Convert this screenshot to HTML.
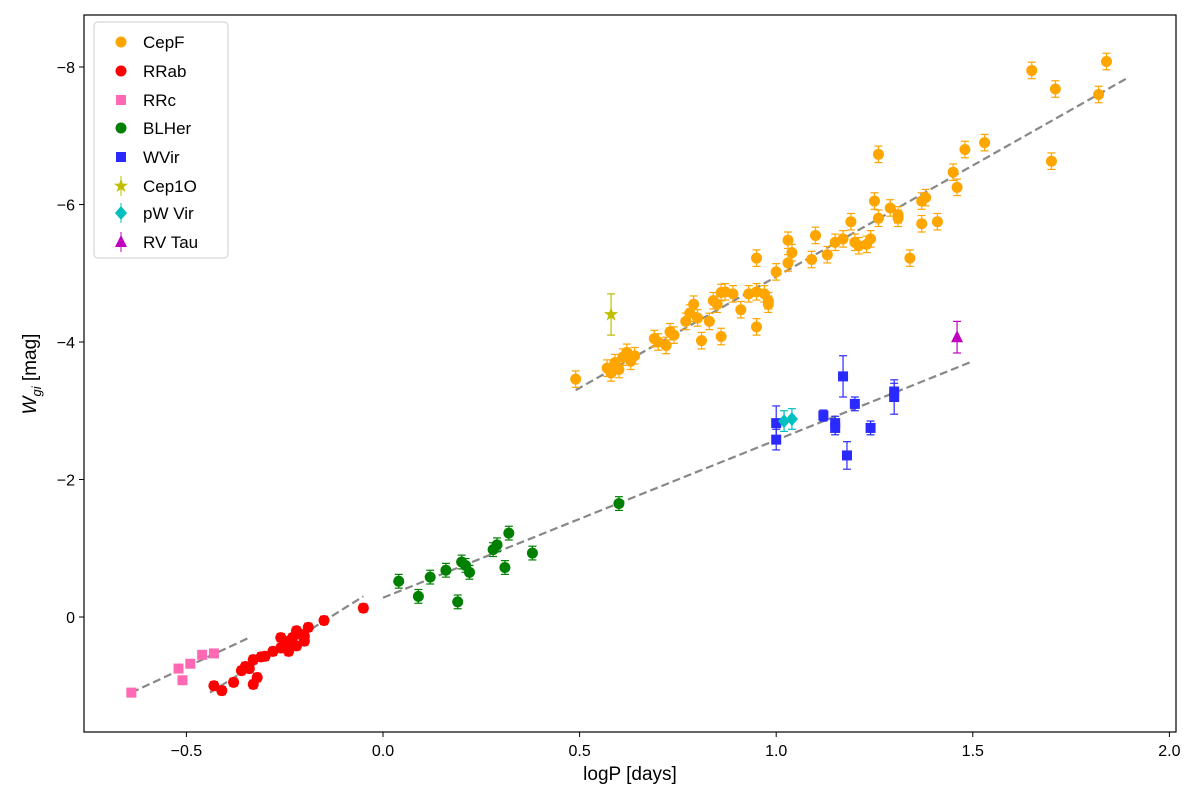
<!DOCTYPE html>
<html><head><meta charset="utf-8"><style>
body{margin:0;background:#fff}
svg{display:block;font-family:"Liberation Sans","DejaVu Sans",sans-serif}
</style></head><body>
<svg id="chart" width="1200" height="800"></svg>
<script>
const cepfP=[0.49,0.57,0.58,0.59,0.60,0.61,0.62,0.63,0.64,0.69,0.70,0.73,0.74,0.72,0.77,0.78,0.79,0.80,0.81,0.83,0.84,0.85,0.86,0.87,0.86,0.89,0.91,0.93,0.95,0.95,0.95,0.97,0.98,0.98,1.0,1.03,1.03,1.04,1.10,1.09,1.13,1.15,1.17,1.19,1.2,1.21,1.23,1.24,1.25,1.26,1.26,1.29,1.31,1.31,1.34,1.37,1.38,1.37,1.41,1.45,1.46,1.48,1.53,1.65,1.70,1.71,1.82,1.84];
const cepfW=[-3.46,-3.62,-3.55,-3.7,-3.6,-3.78,-3.85,-3.72,-3.8,-4.05,-4.0,-4.15,-4.1,-3.95,-4.3,-4.42,-4.55,-4.35,-4.02,-4.3,-4.6,-4.55,-4.72,-4.73,-4.08,-4.7,-4.47,-4.7,-4.73,-4.22,-5.22,-4.7,-4.6,-4.55,-5.02,-5.48,-5.15,-5.3,-5.55,-5.2,-5.27,-5.45,-5.5,-5.75,-5.45,-5.4,-5.42,-5.5,-6.05,-5.8,-6.73,-5.95,-5.8,-5.85,-5.22,-5.72,-6.1,-6.05,-5.75,-6.47,-6.25,-6.8,-6.9,-7.95,-6.63,-7.68,-7.6,-8.08];
const rrabP=[-0.43,-0.41,-0.38,-0.36,-0.35,-0.34,-0.33,-0.32,-0.33,-0.31,-0.30,-0.26,-0.26,-0.25,-0.24,-0.23,-0.22,-0.21,-0.20,-0.20,-0.19,-0.22,-0.24,-0.28,-0.15,-0.05];
const rrabW=[1.0,1.07,0.95,0.78,0.72,0.75,0.98,0.88,0.62,0.58,0.57,0.3,0.45,0.4,0.35,0.3,0.2,0.25,0.28,0.35,0.15,0.42,0.5,0.5,0.05,-0.13];
const rrcP=[-0.64,-0.52,-0.51,-0.49,-0.46,-0.43];
const rrcW=[1.1,0.75,0.92,0.68,0.55,0.53];
const blhP=[0.04,0.09,0.12,0.16,0.19,0.20,0.21,0.22,0.28,0.29,0.31,0.32,0.38,0.60];
const blhW=[-0.52,-0.30,-0.58,-0.68,-0.22,-0.80,-0.75,-0.65,-0.98,-1.05,-0.72,-1.22,-0.93,-1.65];
const wvirP=[1.0,1.0,1.12,1.15,1.15,1.17,1.18,1.20,1.24,1.30,1.30];
const wvirW=[-2.82,-2.58,-2.93,-2.82,-2.75,-3.5,-2.35,-3.1,-2.75,-3.2,-3.28];
const wvirE=[0.25,0.15,0.08,0.1,0.1,0.3,0.2,0.1,0.1,0.25,0.12];
const cep1oP=[0.58], cep1oW=[-4.4];
const pwvP=[1.02,1.04], pwvW=[-2.85,-2.88];
const rvtP=[1.46], rvtW=[-4.07];
const fits=[[0.49,-3.3,1.89,-7.83],[0.0,-0.28,1.5,-3.72],[-0.44,1.1,-0.05,-0.3],[-0.64,1.1,-0.34,0.3]];
const xTicks=[-0.5,0.0,0.5,1.0,1.5,2.0];
const yTicks=[-8,-6,-4,-2,0];

const NS="http://www.w3.org/2000/svg";
const svg=document.getElementById('chart');
const L=84,R=1176,T=15,B=732;
const X=v=>383+v*393.2, Y=v=>617+v*68.75;
function el(t,a,p){const e=document.createElementNS(NS,t);for(const k in a)e.setAttribute(k,a[k]);(p||svg).appendChild(e);return e;}
const gF=el('g',{});
fits.forEach(f=>{const l=el('line',{x1:X(f[0]),y1:Y(f[1]),x2:X(f[2]),y2:Y(f[3]),stroke:'#888',"stroke-width":2.2,"stroke-dasharray":"8,4"},gF);

});
function marker(shape,cx,cy,c,g,s){
 let m;
 if(shape==='o')m=el('circle',{cx,cy,r:s||5.5,fill:c},g);
 else if(shape==='s')m=el('rect',{x:cx-5,y:cy-5,width:10,height:10,fill:c},g);
 else if(shape==='d')m=el('polygon',{points:`${cx},${cy-7} ${cx+6},${cy} ${cx},${cy+7} ${cx-6},${cy}`,fill:c},g);
 else if(shape==='^')m=el('polygon',{points:`${cx},${cy-7} ${cx+6},${cy+5} ${cx-6},${cy+5}`,fill:c},g);
 else {let p=[];for(let i=0;i<10;i++){const r=i%2?3:7.5,a=-Math.PI/2+i*Math.PI/5;p.push((cx+r*Math.cos(a))+','+(cy+r*Math.sin(a)));}m=el('polygon',{points:p.join(' '),fill:c},g);}
 return m;
}
function series(name,P,W,E,shape,c,errc){
 const g=el('g',{});
 
 
 P.forEach((p,i)=>{const cx=X(p),cy=Y(W[i]);const e=E?(Array.isArray(E)?E[i]:E):0;
  if(e){const y1=Y(W[i]-e),y2=Y(W[i]+e);
   el('line',{x1:cx,y1,x2:cx,y2,stroke:errc||c,"stroke-width":1.2},g);
   el('line',{x1:cx-4,y1,x2:cx+4,y2:y1,stroke:errc||c,"stroke-width":1.2},g);
   el('line',{x1:cx-4,y1:y2,x2:cx+4,y2,stroke:errc||c,"stroke-width":1.2},g);}
  const m=marker(shape,cx,cy,c,g);
  
  });
}
series('cepf',cepfP,cepfW,0.12,'o','#ffa500');
series('rrab',rrabP,rrabW,0.06,'o','#ff0000');
series('rrc',rrcP,rrcW,0,'s','#ff69b4');
series('blher',blhP,blhW,0.1,'o','#008000');
series('wvir',wvirP,wvirW,wvirE,'s','#2a2aff');
series('cep1o',cep1oP,cep1oW,0.3,'*','#bfbf00');
series('pwvir',pwvP,pwvW,0.15,'d','#00c0c0');
series('rvtau',rvtP,rvtW,0.23,'^','#bf00bf');
// axes
const ax=el('rect',{x:L,y:T,width:R-L,height:B-T,fill:'none',stroke:'#000',"stroke-width":1.2});


xTicks.forEach(v=>{el('line',{x1:X(v),y1:B,x2:X(v),y2:B+5,stroke:'#000'});
 const t=el('text',{x:X(v),y:B+24,"text-anchor":"middle","font-size":16});t.textContent=v.toFixed(1).replace('-','−');
 
 });
yTicks.forEach(v=>{el('line',{x1:L-5,y1:Y(v),x2:L,y2:Y(v),stroke:'#000'});
 const t=el('text',{x:L-9,y:Y(v)+6,"text-anchor":"end","font-size":16});t.textContent=v===0?'0':'−'+Math.abs(v);
 
 });
</script>
<svg width="0" height="0"></svg>
<div style="position:absolute;left:0;top:0;width:1200px;height:800px;pointer-events:none">
<svg width="1200" height="800" style="position:absolute;left:0;top:0;font-family:'Liberation Sans','DejaVu Sans',sans-serif">
<text x="630" y="780" text-anchor="middle" font-size="19">logP [days]</text>
<text transform="translate(36,374) rotate(-90)" text-anchor="middle" font-size="19"><tspan font-style="italic">W</tspan><tspan font-style="italic" font-size="13" dy="5">gi</tspan><tspan dy="-5"> [mag]</tspan></text>
<g>
<rect x="94" y="22" width="134" height="236" rx="4" fill="#fff" fill-opacity="0.8" stroke="#ccc"/>
<g font-size="17">
<circle cx="121" cy="42" r="5.5" fill="#ffa500"/><text x="143" y="48">CepF</text>
<circle cx="121" cy="71" r="5.5" fill="#ff0000"/><text x="143" y="77">RRab</text>
<rect x="116" y="95" width="10" height="10" fill="#ff69b4"/><text x="143" y="106">RRc</text>
<circle cx="121" cy="128" r="5.5" fill="#008000"/><text x="143" y="134">BLHer</text>
<rect x="116" y="152" width="10" height="10" fill="#2a2aff"/><text x="143" y="163">WVir</text>
<line x1="121" y1="176" x2="121" y2="196" stroke="#bfbf00"/><polygon points="121,178.5 122.8,183.6 128.1,183.7 123.8,187 125.4,192 121,189 116.6,192 118.2,187 113.9,183.7 119.2,183.6" fill="#bfbf00"/><text x="143" y="192">Cep1O</text>
<line x1="121" y1="203" x2="121" y2="223" stroke="#00c0c0"/><polygon points="121,206 127,213 121,220 115,213" fill="#00c0c0"/><text x="143" y="219">pW Vir</text>
<line x1="121" y1="232" x2="121" y2="252" stroke="#bf00bf"/><polygon points="121,235 127,247 115,247" fill="#bf00bf"/><text x="143" y="248">RV Tau</text>
</g></g>
</svg></div>
</body></html>
